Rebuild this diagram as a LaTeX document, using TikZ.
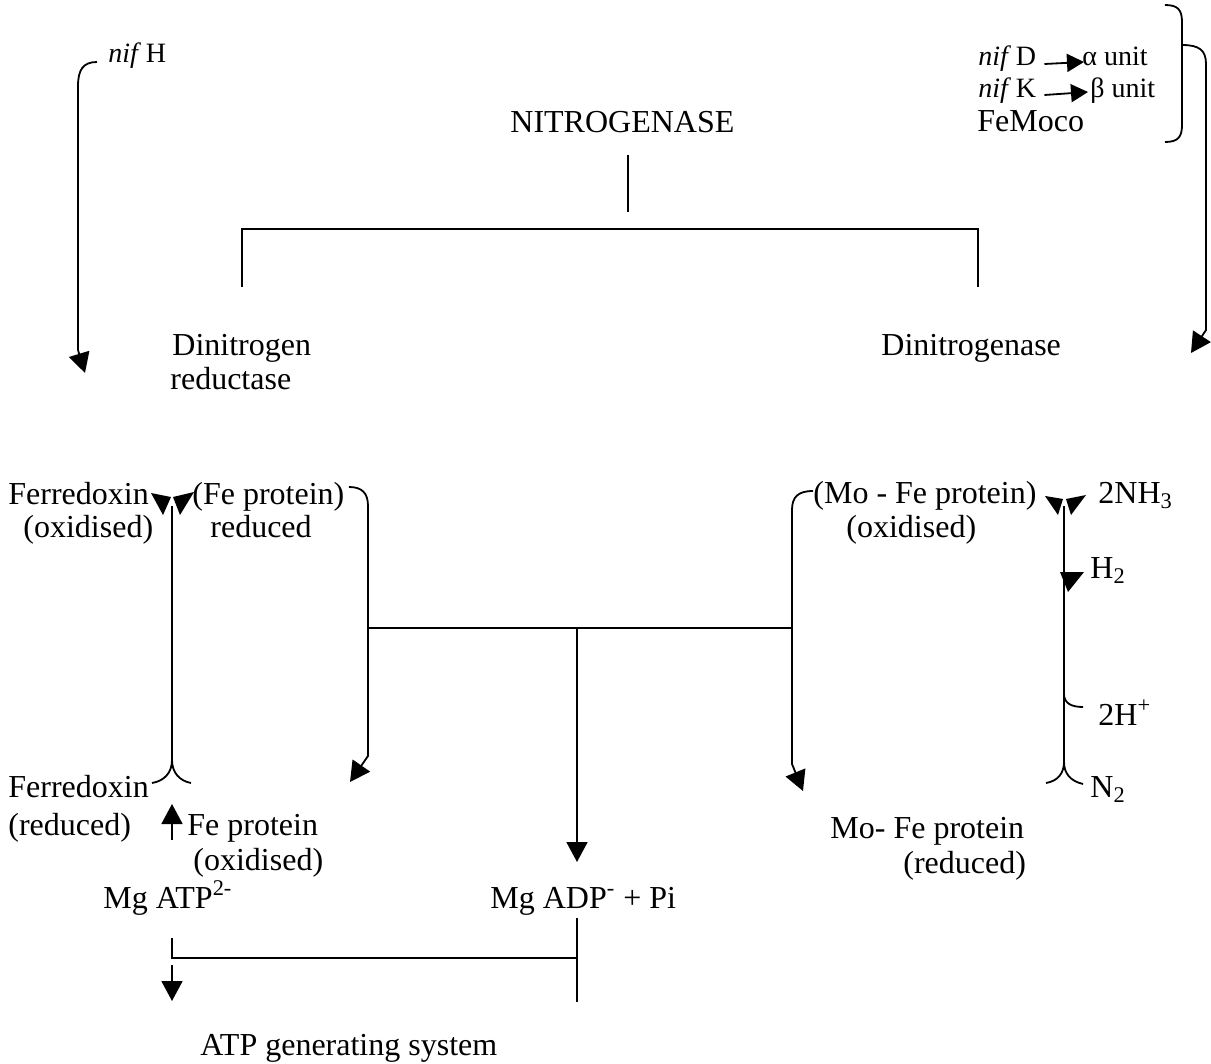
\documentclass[tikz,border=0pt]{standalone}
\usepackage{fontspec}
\setmainfont{Liberation Serif}
\usetikzlibrary{arrows.meta}
\begin{document}
\begin{tikzpicture}[x=0.5pt,y=-0.5pt,
  lbl/.style={inner sep=0pt, anchor=base west, font=\fontsize{16}{19}\selectfont},
  niflbl/.style={inner sep=0pt, anchor=base west, font=\fontsize{14}{17}\selectfont},
  ln/.style={line width=0.9pt},
  arr/.style={ln, -{Triangle[length=10pt,width=10.5pt]}},
  smallarr/.style={ln, -{Triangle[length=8.5pt,width=9pt]}},
  tipfill/.style={fill=black}]
\useasboundingbox (0,0) rectangle (1211,1064);

% ---------- labels ----------
\node[niflbl] (nifH) at (108,63) {\textit{nif}\,H};
\node[niflbl] (nifD) at (978,66) {\textit{nif}\,D};
\node[niflbl] (alpha) at (1082,66) {α unit};
\node[niflbl] (nifK) at (978,98) {\textit{nif}\,K};
\node[niflbl] (beta) at (1090,98) {β unit};
\node[lbl] (femoco) at (977,132) {FeMoco};
\node[lbl] (nitro) at (510,133) {NITROGENASE};
\node[lbl] (dinA) at (172,356) {Dinitrogen};
\node[lbl] (dinB) at (170,390) {reductase};
\node[lbl] (dinase) at (881,356) {Dinitrogenase};
\node[lbl] (fdoxA) at (8,504) {Ferredoxin};
\node[lbl] (fdoxB) at (23,537) {(oxidised)};
\node[lbl] (feredA) at (192,504) {(Fe protein)};
\node[lbl] (feredB) at (210,537) {reduced};
\node[lbl] (moxA) at (813,503) {(Mo - Fe protein)};
\node[lbl] (moxB) at (846,537) {(oxidised)};
\node[lbl] (nh3) at (1098,503) {2NH\textsubscript{3}};
\node[lbl] (h2) at (1090,578) {H\textsubscript{2}};
\node[lbl] (hplus) at (1098,725) {2H\textsuperscript{+}};
\node[lbl] (n2) at (1090,797) {N\textsubscript{2}};
\node[lbl] (fdredA) at (8,797) {Ferredoxin};
\node[lbl] (fdredB) at (8,835) {(reduced)};
\node[lbl] (feoxA) at (187,835) {Fe protein};
\node[lbl] (feoxB) at (193,870) {(oxidised)};
\node[lbl] (moredA) at (830,838) {Mo- Fe protein};
\node[lbl] (moredB) at (903,873) {(reduced)};
\node[lbl] (atp) at (103,908) {Mg ATP\textsuperscript{2-}};
\node[lbl] (adp) at (490,908) {Mg ADP\textsuperscript{-} + Pi};
\node[lbl] (gen) at (200,1055) {ATP generating system};

% ---------- junction coordinates ----------
\coordinate (nTop) at (628,155);
\coordinate (nBot) at (628,212);
\coordinate (brL) at (242,287);
\coordinate (brR) at (978,287);
\coordinate (feX) at (368,628);
\coordinate (moX) at (792,628);
\coordinate (midX) at (577,628);
\coordinate (leftTop) at (172,506);
\coordinate (leftJ) at (172,760);
\coordinate (rightTop) at (1064,506);
\coordinate (rightJ) at (1064,762);
\coordinate (atpTop) at (172,938);
\coordinate (adpTop) at (577,918);
\coordinate (adpBot) at (577,1002);

% ---------- top part ----------
\draw[ln] (nTop) -- (nBot);
\draw[ln] (brL) -- (242,229) -- (978,229) -- (brR);

% nif H arrow to dinitrogen reductase
\draw[arr] (97,62) .. controls (83,62) and (78,70) .. (78,86) -- (78,350) -- (85,373);

% right bracket and arrow to dinitrogenase
\draw[ln] (1165,5) .. controls (1178,5) and (1182,10) .. (1182,22) -- (1182,125) .. controls (1182,137) and (1178,142) .. (1165,142);
\draw[arr] (1182,45) .. controls (1199,45) and (1206,50) .. (1206,64) -- (1206,330) -- (1191,353);

% nif D / nif K arrows
\draw[smallarr] (nifD.east |- 0,64) ++(8,0) -- (1084,62);
\draw[smallarr] (nifK.east |- 0,95) ++(8,0) -- (1088,92);

% ---------- left cycle (ferredoxin / Fe protein) ----------
\draw[ln] (leftJ) -- (leftTop);
\fill[tipfill] (151,493) -- (171,497) -- (163,515) -- cycle;
\fill[tipfill] (173,497) -- (194,492) -- (180,515) -- cycle;
\draw[ln] (152,783) .. controls (164,781) and (172,773) .. (leftJ);
\draw[ln] (191,783) .. controls (180,781) and (172,773) .. (leftJ);
\draw[arr] (172,840) -- (172,804);

% Fe protein loop
\draw[arr] (349,487) .. controls (362,487) and (368,493) .. (368,506) -- (368,756) -- (350,782);
\draw[ln] (feX) -- (moX);
\draw[arr] (midX) -- (577,862);

% Mo-Fe protein loop
\draw[arr] (813,491) .. controls (798,491) and (792,497) .. (792,510) -- (792,764) -- (803,791);

% ---------- right column (NH3 / H2 / H+ / N2) ----------
\draw[ln] (rightJ) -- (rightTop);
\fill[tipfill] (1045,496) -- (1063,499) -- (1058,515) -- cycle;
\fill[tipfill] (1066,499) -- (1086,495) -- (1071,515) -- cycle;
\fill[tipfill] (1060,572) -- (1084,572) -- (1068,592) -- cycle;
\draw[ln] (1064,694) .. controls (1064,703) and (1071,707) .. (1083,707);
\draw[ln] (1046,783) .. controls (1058,781) and (1064,773) .. (rightJ);
\draw[ln] (1083,784) .. controls (1070,781) and (1064,773) .. (rightJ);

% ---------- ATP regeneration ----------
\draw[ln] (atpTop) -- (172,958) -- (577,958);
\draw[ln] (adpTop) -- (adpBot);
\draw[arr] (172,965) -- (172,1001);
\end{tikzpicture}
\end{document}
